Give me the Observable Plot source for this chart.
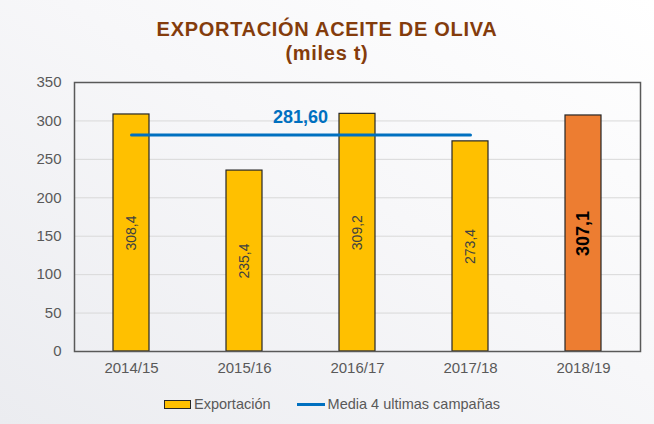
<!DOCTYPE html>
<html>
<head>
<meta charset="utf-8">
<script src="https://cdn.jsdelivr.net/npm/d3@7"></script>
<script src="https://cdn.jsdelivr.net/npm/@observablehq/plot@0.6"></script>
<style>
  body { margin: 0; }
  #wrap {
    position: relative; width: 654px; height: 424px; overflow: hidden;
    background: linear-gradient(to bottom left, #ffffff 0%, #f7f7f9 45%, #ebecf0 100%);
    font-family: "Liberation Sans", Arial, sans-serif;
  }
  #title {
    height: 72px; box-sizing: border-box; padding-top: 17px;
    text-align: center; color: #843C0C; font-weight: bold;
    font-size: 20px; line-height: 24px; letter-spacing: 0.7px;
  }
  #legend {
    height: 40px; display: flex; align-items: center; justify-content: center;
    padding-left: 10px; box-sizing: border-box;
    font-size: 14.5px; color: #595959;
  }
  .sw-bar { width: 25px; height: 7px; background: #FFC000; border: 1.5px solid #262626; margin-right: 3px; }
  .sw-line { width: 28px; height: 3px; background: #0070C0; margin-left: 26px; margin-right: 3px; }
</style>
</head>
<body>
<div id="wrap">
  <div id="title">EXPORTACIÓN ACEITE DE OLIVA<br>(miles t)</div>
  <div id="chart"></div>
  <div id="legend">
    <span class="sw-bar"></span><span>Exportación</span>
    <span class="sw-line"></span><span>Media 4 ultimas campañas</span>
  </div>
</div>
<script>
const categories = ["2014/15", "2015/16", "2016/17", "2017/18", "2018/19"];
const exportacion = [308.4, 235.4, 309.2, 273.4, 307.1];
const valueLabels = ["308,4", "235,4", "309,2", "273,4", "307,1"];
const media = 281.6;
const mediaLabel = "281,60";
const mediaCampaigns = ["2014/15", "2017/18"];
const yTicks = [0, 50, 100, 150, 200, 250, 300, 350];

const rows = categories.map((c, i) => ({campaign: c, value: exportacion[i], label: valueLabels[i]}));
const past = rows.slice(0, 4);
const current = rows.slice(4);
const mediaRows = mediaCampaigns.map(c => ({campaign: c, value: media}));

const chart = Plot.plot({
  width: 654,
  height: 312,
  marginLeft: 74,
  marginRight: 14,
  marginTop: 10,
  marginBottom: 33,
  style: {background: "transparent", fontFamily: "'Liberation Sans', Arial, sans-serif", fontSize: "15px", color: "#595959"},
  x: {domain: categories, paddingInner: 0.68, paddingOuter: 0.34, label: null, tickSize: 0, tickPadding: 11},
  y: {domain: [0, 350], ticks: yTicks, label: null, tickSize: 0, tickPadding: 13, tickFormat: d => String(d)},
  marks: [
    Plot.ruleY(yTicks, {stroke: "#d9d9d9", strokeWidth: 1}),
    Plot.barY(past, {x: "campaign", y: "value", fill: "#FFC000", stroke: "#262626", strokeWidth: 1.2}),
    Plot.barY(current, {x: "campaign", y: "value", fill: "#ED7D31", stroke: "#262626", strokeWidth: 1.2}),
    Plot.text(past, {x: "campaign", y: d => d.value / 2, text: "label", rotate: -90, fontSize: 14, fill: "#404040"}),
    Plot.text(current, {x: "campaign", y: d => d.value / 2, text: "label", rotate: -90, fontSize: 18, fontWeight: "bold", fill: "#000000"}),
    Plot.lineY(mediaRows, {x: "campaign", y: "value", stroke: "#0070C0", strokeWidth: 3}),
    Plot.text([media], {x: () => "2015/16", y: d => d, dx: 56, dy: -18, text: () => mediaLabel, fontSize: 18, fontWeight: "bold", fill: "#0070C0"}),
    Plot.frame({stroke: "#595959", strokeWidth: 1.5})
  ]
});
document.getElementById("chart").appendChild(chart);
</script>
</body>
</html>
